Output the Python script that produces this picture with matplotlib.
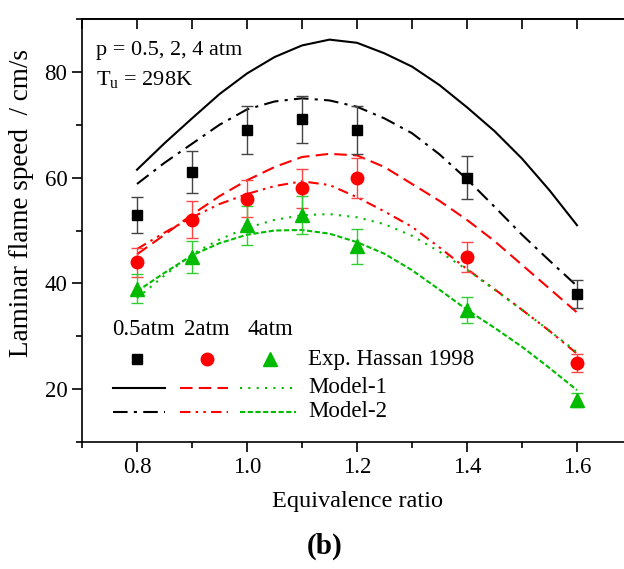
import matplotlib
matplotlib.use("Agg")
import matplotlib.pyplot as plt
from matplotlib.ticker import MultipleLocator

plt.rcParams['font.family'] = ['Liberation Serif', 'DejaVu Serif']
plt.rcParams['mathtext.fontset'] = 'custom'
plt.rcParams['mathtext.rm'] = 'Liberation Serif'

# experimental data (Hassan 1998)
phi_exp = [0.8, 0.9, 1.0, 1.1, 1.2, 1.4, 1.6]
su_05 = [53, 61, 69, 71, 69, 60, 38]
err_05 = [3.4, 4.0, 4.5, 4.5, 4.5, 4.0, 2.6]
su_2 = [44, 52, 56, 58, 60, 45, 25]
err_2 = [2.7, 3.5, 3.5, 3.7, 3.8, 2.9, 1.7]
su_4 = [39, 45, 51, 53, 47, 35, 18]
err_4 = [2.7, 3.1, 3.7, 3.6, 3.3, 2.5, 1.3]

# model curves
phi_mod = [0.8, 0.85, 0.9, 0.95, 1.0, 1.05, 1.1, 1.15, 1.2, 1.25, 1.3,
           1.35, 1.4, 1.45, 1.5, 1.55, 1.6]
m1_05 = [61.5, 66.5, 71.2, 75.8, 79.7, 82.8, 85.0, 86.1, 85.5, 83.5, 81.0,
         77.5, 73.3, 68.8, 63.6, 57.6, 51.0]
m2_05 = [58.8, 62.8, 66.4, 70.0, 72.9, 74.4, 75.0, 74.6, 73.4, 71.2, 68.4,
         64.4, 59.7, 54.5, 49.2, 44.3, 39.5]
m1_2 = [45.5, 49.2, 53.0, 56.5, 59.5, 62.0, 63.9, 64.5, 64.2, 62.0, 58.8,
        55.6, 52.0, 48.0, 43.5, 39.0, 34.5]
m2_2 = [46.5, 49.6, 52.5, 55.0, 56.9, 58.4, 59.3, 58.6, 56.3, 53.6, 50.7,
        46.8, 42.7, 38.9, 35.0, 31.0, 26.7]
m1_4 = [37.2, 41.5, 45.5, 48.3, 50.5, 52.0, 52.9, 53.1, 52.5, 51.2, 49.0,
        46.0, 42.6, 38.8, 35.0, 31.0, 27.0]
m2_4 = [38.5, 42.0, 45.3, 47.6, 49.2, 50.0, 50.1, 49.4, 47.8, 45.6, 42.5,
        38.8, 35.0, 31.6, 28.0, 24.0, 19.8]

red = '#FF0000'
green = '#00BB00'

ls_dashdot = (0, (7, 3, 1.5, 3))
ls_dash = (0, (6, 3))
ls_dashdotdot = (0, (5, 2.5, 1.2, 2.5, 1.2, 2.5))
ls_dot = (0, (1, 3))
ls_short = (0, (2.5, 1.2))

fig = plt.figure(figsize=(6.24, 5.69), dpi=100)
ax = fig.add_axes([82 / 624, 1 - 442 / 569, 550 / 624, 423 / 569])

ax.plot(phi_mod, m1_05, color='black', lw=1.5, ls='-')
ax.plot(phi_mod, m2_05, color='black', lw=1.5, ls=ls_dashdot)
ax.plot(phi_mod, m1_2, color=red, lw=1.5, ls=ls_dash)
ax.plot(phi_mod, m2_2, color=red, lw=1.5, ls=ls_dashdotdot)
ax.plot(phi_mod, m1_4, color=green, lw=1.5, ls=ls_dot)
ax.plot(phi_mod, m2_4, color=green, lw=1.5, ls=ls_short)

ax.errorbar(phi_exp, su_05, yerr=err_05, fmt='s', color='black', ms=7.5,
            ecolor='#444444', elinewidth=1, capsize=4, capthick=1)
ax.errorbar(phi_exp, su_2, yerr=err_2, fmt='o', color=red, ms=9,
            ecolor='#FF4444', elinewidth=1, capsize=4, capthick=1)
ax.errorbar(phi_exp, su_4, yerr=err_4, fmt='^', color=green, ms=10,
            ecolor='#33CC33', elinewidth=1, capsize=4, capthick=1)

ax.set_xlim(0.7, 1.7)
ax.set_ylim(10, 90)
ax.xaxis.set_minor_locator(MultipleLocator(0.1))
ax.yaxis.set_major_locator(MultipleLocator(20))
ax.yaxis.set_minor_locator(MultipleLocator(10))
ax.set_xticks([0.8, 1.0, 1.2, 1.4, 1.6])
ax.set_xticklabels(['0.8', '1.0', '1.2', '1.4', '1.6'])
ax.tick_params(which='major', direction='out', length=7, width=1.2,
               labelsize=16.5)
ax.tick_params(which='minor', direction='out', length=4, width=1.2)
ax.spines['right'].set_visible(False)
for s in ['left', 'bottom', 'top']:
    ax.spines[s].set_linewidth(1.2)

top = ax.secondary_xaxis('top')
top.xaxis.set_major_locator(MultipleLocator(0.1))
top.tick_params(which='major', direction='in', length=7, width=1.2,
                labeltop=False)
top.spines['top'].set_linewidth(1.2)

ax.set_xlabel('Equivalence ratio', fontsize=17.5, labelpad=10)
ax.set_ylabel('Laminar flame speed  / cm/s', fontsize=19.5)
ax.yaxis.set_label_coords(-0.088, 0.565)

ax.text(0.025, 0.925, 'p = 0.5, 2, 4 atm', transform=ax.transAxes,
        fontsize=16, va='center')
ax.text(0.025, 0.855, r'T$_\mathrm{u}$ = 298K', transform=ax.transAxes,
        fontsize=16, va='center')

# hand-made legend table
tr = ax.transAxes
for xc, lab in zip([0.111, 0.227, 0.342], ['0.5atm', '2atm', '4atm']):
    ax.text(xc, 0.265, lab, transform=tr, fontsize=16.5, ha='center',
            va='center')
ax.plot([0.1], [0.196], 's', color='black', ms=7.5, transform=tr)
ax.plot([0.227], [0.196], 'o', color=red, ms=9, transform=tr)
ax.plot([0.342], [0.196], '^', color=green, ms=10, transform=tr)
ax.text(0.411, 0.196, 'Exp. Hassan 1998', transform=tr, fontsize=16.5,
        va='center')
ax.plot([0.056, 0.151], [0.128, 0.128], color='black', lw=1.5, transform=tr)
ax.plot([0.178, 0.265], [0.128, 0.128], color=red, lw=1.5, ls=ls_dash,
        transform=tr)
ax.plot([0.287, 0.389], [0.128, 0.128], color=green, lw=1.5, ls=ls_dot,
        transform=tr)
ax.text(0.411, 0.128, 'Model-1', transform=tr, fontsize=16.5, va='center')
ax.plot([0.056, 0.151], [0.071, 0.071], color='black', lw=1.5,
        ls=ls_dashdot, transform=tr)
ax.plot([0.178, 0.265], [0.071, 0.071], color=red, lw=1.5,
        ls=ls_dashdotdot, transform=tr)
ax.plot([0.287, 0.389], [0.071, 0.071], color=green, lw=1.5, ls=ls_short,
        transform=tr)
ax.text(0.411, 0.071, 'Model-2', transform=tr, fontsize=16.5, va='center')

fig.text(325 / 624, 1 - 546 / 569, '(b)', fontsize=21, fontweight='bold',
         ha='center', va='center')

fig.savefig('out.png', dpi=100)
